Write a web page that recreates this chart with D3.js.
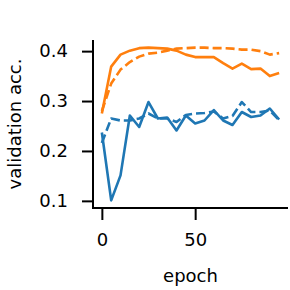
<!DOCTYPE html>
<html>
<head>
<meta charset="utf-8">
<script src="https://cdn.jsdelivr.net/npm/d3@7"></script>
<style>
  body { margin: 0; background: #fff; }
  text { font-family: "DejaVu Sans", sans-serif; fill: #000; }
</style>
</head>
<body>
<script>
// validation accuracy per epoch, sampled every 5 epochs
const epochs = d3.range(0, 100, 5)
const blueSolid = [0.237, 0.101, 0.151, 0.271, 0.248, 0.298, 0.265, 0.267, 0.241, 0.271,
    0.255, 0.261, 0.282, 0.261, 0.252, 0.278, 0.268, 0.271, 0.285, 0.263]
const blueDashed = [0.216, 0.265, 0.261, 0.261, 0.265, 0.275, 0.265, 0.265, 0.258, 0.272,
    0.275, 0.276, 0.279, 0.265, 0.27, 0.298, 0.278, 0.278, 0.281, 0.262]
const orangeSolid = [0.275, 0.369, 0.393, 0.401, 0.406, 0.407, 0.406, 0.405, 0.401, 0.393,
    0.388, 0.388, 0.388, 0.376, 0.365, 0.375, 0.364, 0.365, 0.35, 0.356]
const orangeDashed = [0.28, 0.335, 0.363, 0.378, 0.389, 0.395, 0.397, 0.401, 0.405, 0.406,
    0.407, 0.407, 0.406, 0.406, 0.405, 0.403, 0.403, 0.4, 0.393, 0.396]
const xTicks = [0, 50]
const yTicks = [0.1, 0.2, 0.3, 0.4]

const w = 290, h = 290
const mLeft = 93, mRight = 288, mTop = 40, mBottom = 208

const svg = d3.select('body').append('svg')
    .attr('width', w)
    .attr('height', h)

// 5% margins like matplotlib
const allY = blueSolid.concat(blueDashed, orangeSolid, orangeDashed)
const yMin = d3.min(allY), yMax = d3.max(allY)
const yPad = (yMax - yMin) * 0.05
const xPad = (d3.max(epochs) - d3.min(epochs)) * 0.05

const x = d3.scaleLinear()
    .domain([d3.min(epochs) - xPad, d3.max(epochs) + xPad])
    .range([mLeft, mRight])
const y = d3.scaleLinear()
    .domain([yMin - yPad, yMax + yPad])
    .range([mBottom, mTop])

const line = d3.line()
    .x((d, i) => x(epochs[i]))
    .y(d => y(d))

const series = [
    { v: blueSolid, c: '#1f77b4', dash: null },
    { v: orangeSolid, c: '#ff7f0e', dash: null },
    { v: blueDashed, c: '#1f77b4', dash: '9,4' },
    { v: orangeDashed, c: '#ff7f0e', dash: '9,4' }
]

svg.selectAll('path.series')
    .data(series)
    .enter().append('path')
    .attr('class', 'series')
    .attr('d', s => line(s.v))
    .attr('fill', 'none')
    .attr('stroke', s => s.c)
    .attr('stroke-width', 2.6)
    .attr('stroke-dasharray', s => s.dash)
    .attr('stroke-linejoin', 'round')

const xAxis = svg.append('g')
    .attr('transform', `translate(0,${mBottom})`)
    .call(d3.axisBottom(x).tickValues(xTicks).tickSize(12).tickPadding(13).tickSizeOuter(0))
const yAxis = svg.append('g')
    .attr('transform', `translate(${mLeft},0)`)
    .call(d3.axisLeft(y).tickValues(yTicks).tickSize(11).tickPadding(14).tickSizeOuter(0)
        .tickFormat(d3.format('.1f')))

for (const g of [xAxis, yAxis]) {
    g.select('.domain').attr('stroke', '#000').attr('stroke-width', 2)
    g.selectAll('.tick line').attr('stroke', '#000').attr('stroke-width', 2)
    g.selectAll('.tick text').attr('font-size', 18).attr('fill', '#000')
        .style('font-family', '"DejaVu Sans", sans-serif')
}
// matplotlib spines meet flush at the corner
xAxis.select('.domain').attr('d', `M${mLeft - 1},0H${mRight}`)
yAxis.select('.domain').attr('d', `M0,${mTop}V${mBottom + 1}`)

svg.append('text')
    .attr('x', (mLeft + mRight) / 2)
    .attr('y', 282)
    .attr('text-anchor', 'middle')
    .attr('font-size', 18)
    .text('epoch')

svg.append('text')
    .attr('transform', `translate(21,${(mTop + mBottom) / 2}) rotate(-90)`)
    .attr('text-anchor', 'middle')
    .attr('font-size', 18)
    .text('validation acc.')
</script>
</body>
</html>
